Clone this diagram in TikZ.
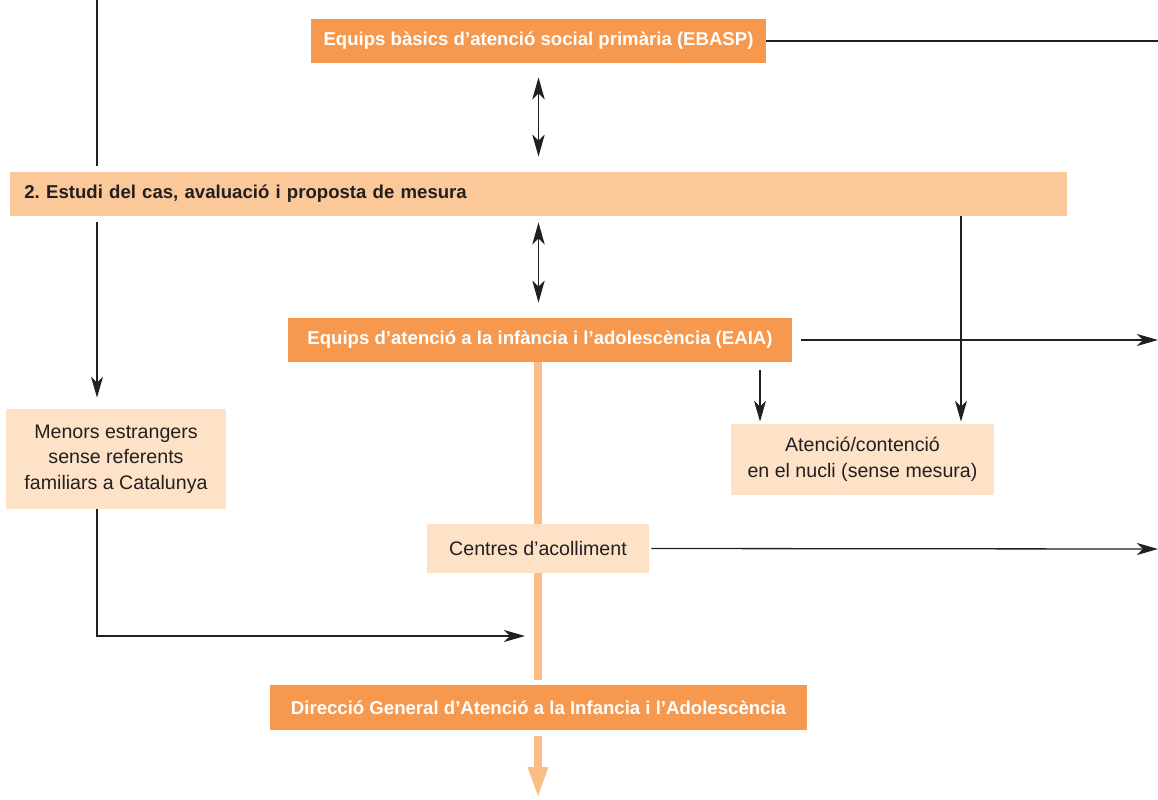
\documentclass[tikz,border=0pt]{standalone}
\usepackage{fontspec}
\setmainfont{Liberation Sans}
\usetikzlibrary{arrows.meta}
\definecolor{dorange}{HTML}{F6994E}
\definecolor{lorange}{HTML}{FBC899}
\definecolor{porange}{HTML}{FDE2C8}
\definecolor{torange}{HTML}{FBBC86}
\definecolor{ink}{HTML}{231F20}
\frenchspacing
\begin{document}
\begin{tikzpicture}[x=0.5pt,y=-0.5pt,
  dbox/.style={fill=dorange, text=white, font=\bfseries\fontsize{9.3}{11}\selectfont, inner sep=0pt},
  lbox/.style={fill=lorange, text=ink, font=\bfseries\fontsize{9.3}{11}\selectfont, inner sep=0pt},
  pbox/.style={fill=porange, text=ink, font=\fontsize{9.8}{12.8}\selectfont, inner sep=0pt, align=center},
  conn/.style={draw=ink, line width=0.65pt},
  arr/.style={conn, -{Stealth[length=10.5pt, width=6pt, inset=3pt]}},
  darr/.style={conn, {Stealth[length=11pt, width=6.2pt, inset=3pt]}-{Stealth[length=11pt, width=6.2pt, inset=3pt]}},
  thickline/.style={draw=torange, line width=4pt},
  thickarr/.style={draw=torange, line width=4pt, -{Triangle[length=16pt, width=9pt]}}
]
\useasboundingbox (0,0) rectangle (1158,799);
% coordinates for free ends and vertical guides
\coordinate (lx) at (97,0);
\coordinate (rx) at (961,0);
\coordinate (sx) at (760,0);
\coordinate (r1) at (1158,41);
\coordinate (r2) at (1158,340);
\coordinate (r3) at (1158,549);
\coordinate (ent) at (525,636);
\coordinate (bot) at (538,799);

% nodes
\node[dbox, minimum width=227.5pt, minimum height=22pt] (ebasp) at (538.5,41) {Equips bàsics d’atenció social primària (EBASP)};
\node[lbox, anchor=west, minimum height=22pt, text width=514.5pt, inner xsep=7pt, align=left] (estudi) at (10,194) {2. Estudi del cas, avaluació i proposta de mesura};
\node[dbox, minimum width=252pt, minimum height=22pt] (eaia) at (540,340) {Equips d’atenció a la infància i l’adolescència (EAIA)};
\node[pbox, minimum width=131.5pt, minimum height=35.5pt] (atencio) at (862.5,459.5) {Atenció/contenció\\en el nucli (sense mesura)};
\node[pbox, minimum width=110pt, minimum height=50pt] (menors) at (116,459) {Menors estrangers\\sense referents\\familiars a Catalunya};
\node[pbox, minimum width=111pt, minimum height=24.5pt] (centres) at (538,548.5) {Centres d’acolliment};
\node[dbox, minimum width=268.5pt, minimum height=22.5pt] (direccio) at (538.5,707.5) {Direcció General d’Atenció a la Infancia i l’Adolescència};

% thick flow line
\draw[thickline] (eaia.south -| centres.north) -- (centres.north);
\draw[thickline] (centres.south) -- ([yshift=2.5pt]direccio.north -| centres.south);
\draw[thickarr] ([yshift=-3pt]direccio.south -| centres.south) -- (bot);

% connectors
\draw[conn] (lx) -- ([yshift=3pt]estudi.north -| lx);
\draw[conn] (ebasp.east) -- (r1);
\draw[darr] ([yshift=-7pt]ebasp.south) -- ([yshift=7.5pt]estudi.north -| ebasp.south);
\draw[darr] ([yshift=-3pt]estudi.south -| ebasp.south) -- ([yshift=7.5pt]eaia.north -| ebasp.south);
\draw[arr] ([yshift=-3pt]estudi.south -| lx) -- ([yshift=5.5pt]menors.north -| lx);
\draw[arr] (estudi.south -| rx) -- ([yshift=1pt]atencio.north -| rx);
\draw[arr] ([xshift=4.5pt]eaia.east) -- (r2);
\draw[arr] ([yshift=-4pt]eaia.south -| sx) -- ([yshift=1pt]atencio.north -| sx);
\draw[arr] ([xshift=1pt]centres.east) -- (r3);
\draw[arr] (menors.south -| lx) |- (ent);
\end{tikzpicture}
\end{document}
